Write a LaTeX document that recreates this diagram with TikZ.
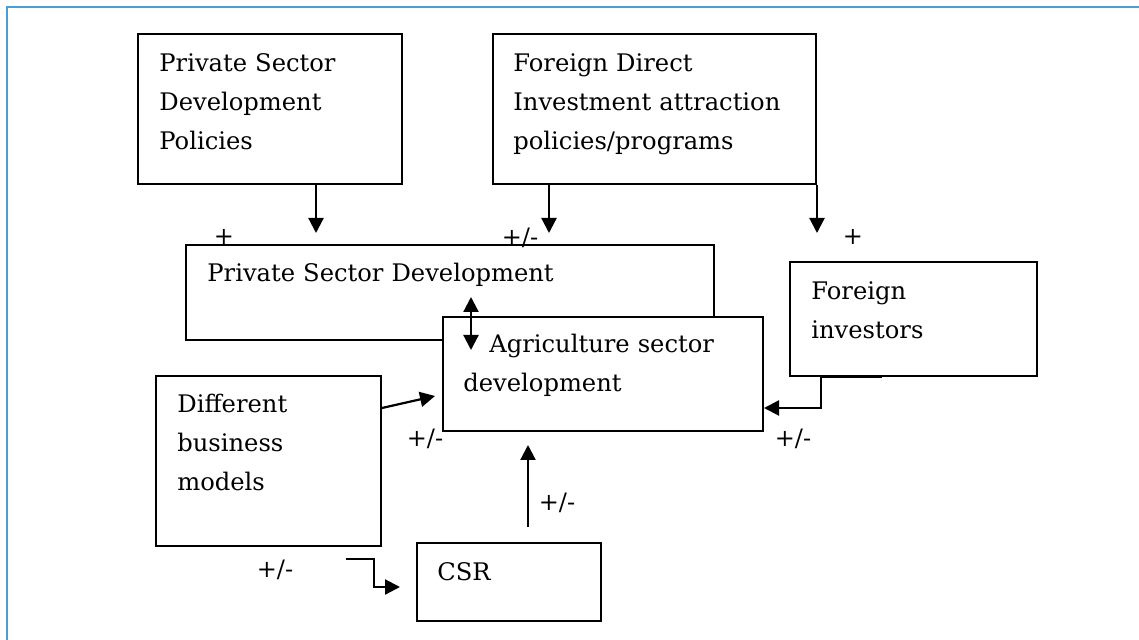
\documentclass[tikz,border=0pt]{standalone}
\usepackage{fontspec}
\setmainfont{DejaVu Serif}
\usetikzlibrary{arrows.meta}

\definecolor{framebl}{RGB}{79,155,213}

\begin{document}
\begin{tikzpicture}[x=0.5pt, y=-0.5pt,
    box/.style={draw, fill=white, line width=1pt, anchor=north west, inner sep=0pt},
    boxtext/.style={anchor=base west, align=left, inner sep=0pt, text width=150pt,
        font=\fontsize{12.1}{19.5}\selectfont},
    sign/.style={inner sep=0pt, font=\fontsize{12}{14}\selectfont},
    arr/.style={-{Triangle[length=7.5pt,width=7.5pt]}, line width=1.1pt},
    arrboth/.style={{Triangle[length=7.5pt,width=7.5pt]}-{Triangle[length=7.5pt,width=7.5pt]}, line width=1.1pt}]
    % units are half points, y runs downwards
    \useasboundingbox (0,0) rectangle (1139,640);

    % page frame (top and left rule only)
    \draw[framebl, line width=1pt] (7,640) -- (7,7) -- (1139,7);

    % Policy boxes
    \node[box, minimum width=132pt, minimum height=75pt] (psdp) at (137,33) {};
    \node[boxtext] (psdptxt) at (159,72) {Private Sector\\Development\\Policies};
    \node[box, minimum width=161.5pt, minimum height=75pt] (fdi) at (492,33) {};
    \node[boxtext, text width=160pt] (fditxt) at (513,72) {Foreign Direct\\Investment attraction\\policies/programs};

    % Private sector development (partly hidden behind agriculture box)
    \node[box, minimum width=264pt, minimum height=47.5pt] (psd) at (185,244) {};
    \node[boxtext, text width=250pt] (psdtxt) at (207,282) {Private Sector Development};

    % Foreign investors
    \node[box, minimum width=123.5pt, minimum height=57pt] (fi) at (789,261) {};
    \node[boxtext] (fitxt) at (811,300) {Foreign\\investors};

    % Agriculture sector development
    \node[box, minimum width=160pt, minimum height=57pt] (agri) at (442,316) {};
    \node[boxtext] (agritxt) at (463,353) {\hspace*{13pt}Agriculture sector\\development};

    % Business models and CSR
    \node[box, minimum width=112.5pt, minimum height=85pt] (dbm) at (155,375) {};
    \node[boxtext] (dbmtxt) at (177,413) {Different\\business\\models};
    \node[box, minimum width=92pt, minimum height=39pt] (csr) at (416,542) {};
    \node[boxtext] (csrtxt) at (437,580) {CSR};

    % Connectors
    \draw[arr, shorten >=5.5pt] ([xshift=23pt]psdp.south) -- ([xshift=23pt]psdp.south |- psd.north);
    \draw[arr, shorten >=5.5pt] ([xshift=-52.75pt]fdi.south) -- ([xshift=-52.75pt]fdi.south |- psd.north);
    \draw[arr, shorten >=14pt] (fdi.south east) -- (fdi.south east |- fi.north);
    \draw[arrboth] ([xshift=14.5pt,yshift=9.5pt]agri.north west) -- ([xshift=14.5pt,yshift=-17pt]agri.north west);
    \draw[arr] ([xshift=46.5pt]fi.south west) -- ([xshift=16pt]fi.south west) |- ([yshift=-17pt]agri.east);
    \draw[arr] ([yshift=26.5pt]dbm.east) -- ([xshift=-3.5pt,yshift=-11pt]agri.west);
    \draw[arr, shorten <=7.5pt, shorten >=6.5pt] ([xshift=9.5pt]csr.north) -- ([xshift=9.5pt]csr.north |- agri.south);
    \draw[arr] ([xshift=-18pt,yshift=-6pt]dbm.south east) -- ++(14pt,0)
        |- ([xshift=-8pt,yshift=-2.5pt]csr.west);

    % Signs of the effects
    \node[sign] (s1) at (224,237) {+};
    \node[sign] (s2) at (520,238) {+/-};
    \node[sign] (s3) at (853,237) {+};
    \node[sign] (s4) at (425,439) {+/-};
    \node[sign] (s5) at (793,439) {+/-};
    \node[sign] (s6) at (557,503) {+/-};
    \node[sign] (s7) at (275,570) {+/-};
\end{tikzpicture}
\end{document}
